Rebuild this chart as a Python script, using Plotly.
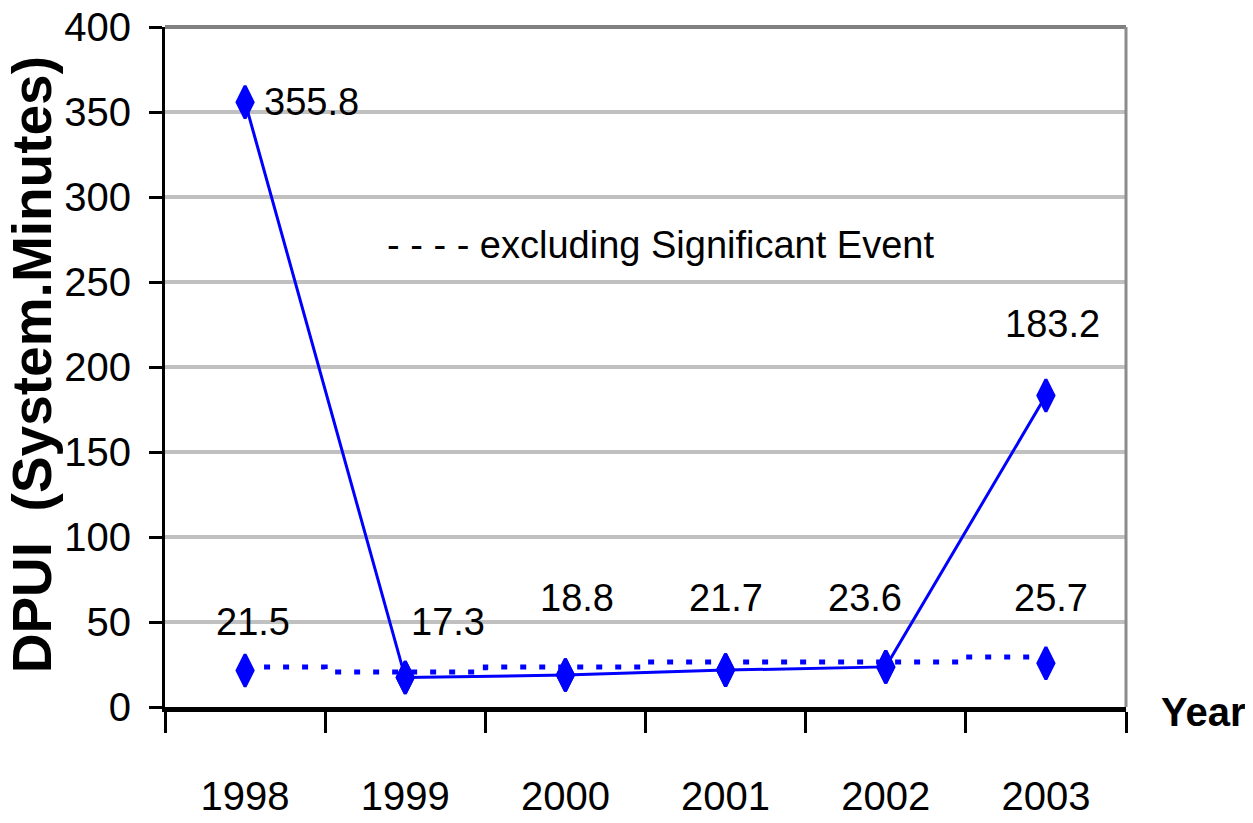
import plotly.graph_objects as go

years = ["1998", "1999", "2000", "2001", "2002", "2003"]
dpui_total = [355.8, 17.3, 18.8, 21.7, 23.6, 183.2]
dpui_excl = [21.5, 17.3, 18.8, 21.7, 23.6, 25.7]
# dotted "excluding" line as drawn in the original (sits a bit above the markers)
excl_trend = [23.5, 20.6, 23.5, 26.5, 26.5, 29.4]
y_ticks = [0, 50, 100, 150, 200, 250, 300, 350, 400]

BLUE = "#0000ff"
FONT = "Liberation Sans, Arial, sans-serif"

# label offsets in pixels (x, y) relative to the data point
excl_label_shift = [(8, 48), (43, 56), (12, 77), (0, 72), (-21, 69), (5, 65)]
total_label_shift = {"1998": (17, 0, "left"), "2003": (7, 72, "center")}

marker_style = dict(symbol="diamond-tall", size=23, color=BLUE,
                    line=dict(color=BLUE, width=3))

fig = go.Figure()

fig.add_trace(go.Scatter(
    x=years, y=excl_trend, mode="lines",
    line=dict(color=BLUE, width=5, dash="6px,13px", shape="hvh"),
    hoverinfo="skip"))

fig.add_trace(go.Scatter(
    x=years, y=dpui_excl, mode="markers", name="excluding Significant Event",
    marker=marker_style))

fig.add_trace(go.Scatter(
    x=years, y=dpui_total, mode="lines+markers", name="DPUI",
    line=dict(color=BLUE, width=3), marker=marker_style))

# category axes take the serial number of the category in annotations
annotations = []
for i, (v, (dx, dy)) in enumerate(zip(dpui_excl, excl_label_shift)):
    annotations.append(dict(x=i, y=v, xref="x", yref="y", text=f"{v}",
                            showarrow=False, xshift=dx, yshift=dy,
                            font=dict(family=FONT, size=38, color="black")))
for i, (yr, v) in enumerate(zip(years, dpui_total)):
    if yr in total_label_shift:
        dx, dy, anc = total_label_shift[yr]
        annotations.append(dict(x=i, y=v, xref="x", yref="y", text=f"{v}",
                                showarrow=False, xshift=dx, yshift=dy, xanchor=anc,
                                font=dict(family=FONT, size=38, color="black")))

annotations += [
    dict(text="- - - - excluding Significant Event", xref="paper", yref="paper",
         x=0.229, y=0.679, xanchor="left", yanchor="middle", showarrow=False,
         font=dict(family=FONT, size=38, color="black")),
    dict(text="<b>DPUI  (System.Minutes)</b>", xref="paper", yref="paper",
         x=-0.138, y=0.503, xanchor="center", yanchor="middle",
         textangle=-90, showarrow=False,
         font=dict(family=FONT, size=55, color="black")),
    dict(text="<b>Year</b>", xref="paper", yref="paper",
         x=1.127, y=-0.007, xanchor="right", yanchor="middle", showarrow=False,
         font=dict(family=FONT, size=40, color="black")),
]

# page body has an 8px margin, so the figure is 8px smaller on each side
fig.update_layout(
    width=1245, height=815,
    margin=dict(l=157, r=127, t=19, b=116),
    plot_bgcolor="white", paper_bgcolor="white",
    showlegend=False,
    annotations=annotations,
    shapes=[
        dict(type="line", xref="paper", yref="paper", x0=0, x1=1, y0=1, y1=1,
             line=dict(color="#808080", width=4)),
        dict(type="line", xref="paper", yref="paper", x0=1, x1=1, y0=0, y1=1,
             line=dict(color="#8c8c8c", width=3)),
    ],
)

fig.update_xaxes(
    type="category", range=[-0.5, 5.5], tickson="boundaries", automargin=False,
    showgrid=False, showline=True, linecolor="black", linewidth=5,
    ticks="outside", ticklen=21, tickwidth=3, tickcolor="black",
    ticklabelstandoff=50,
    tickfont=dict(family=FONT, size=40, color="black"))

fig.update_yaxes(
    range=[0, 400], tickvals=y_ticks, zeroline=False, automargin=False,
    showgrid=True, gridcolor="#c0c0c0", gridwidth=4,
    showline=True, linecolor="black", linewidth=3,
    ticks="outside", ticklen=13, tickwidth=3, tickcolor="black",
    ticklabelstandoff=10, ticklabeloverflow="allow",
    tickfont=dict(family=FONT, size=40, color="black"))

fig.write_html("out.html")
